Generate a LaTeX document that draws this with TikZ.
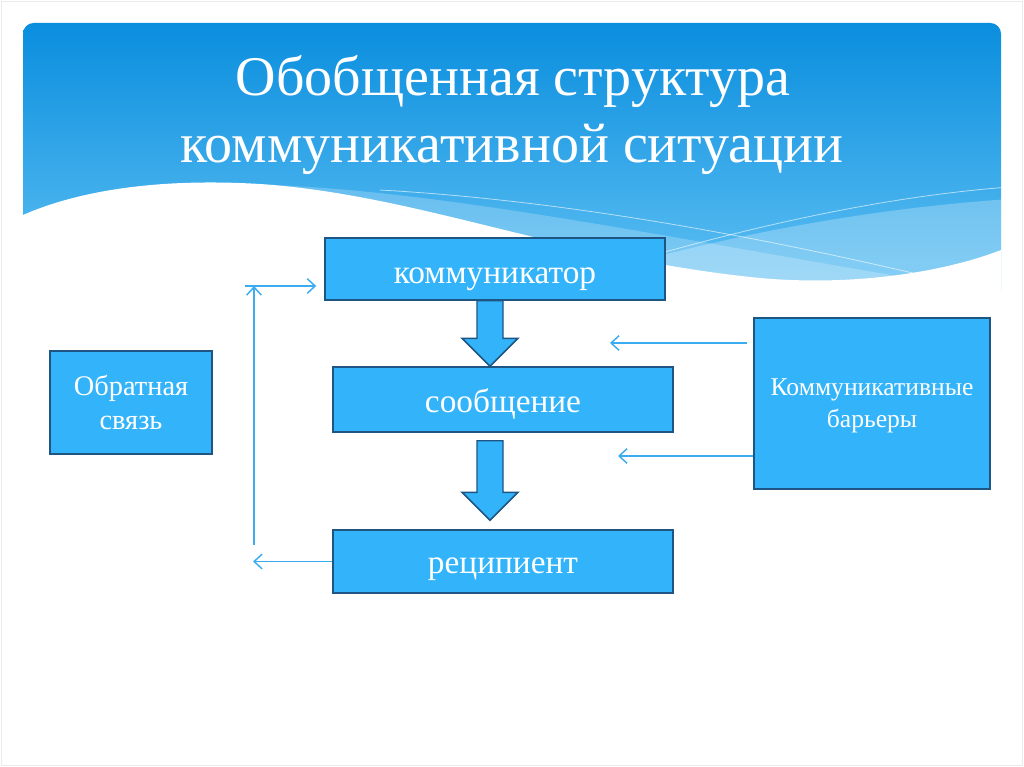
\documentclass[tikz,border=0pt]{standalone}
\usepackage{fontspec}
\setmainfont{Liberation Serif}
\usetikzlibrary{arrows.meta,calc}
\definecolor{boxblue}{RGB}{51,180,250}
\definecolor{boxedge}{RGB}{30,85,130}
\definecolor{linkblue}{RGB}{60,172,240}
\definecolor{hdtop}{RGB}{10,142,222}
\definecolor{hdbot}{RGB}{95,192,243}
\tikzset{
  box/.style={draw=boxedge, line width=1.1pt, fill=boxblue, text=white, inner sep=0pt, align=center},
  bigtext/.style={font=\fontsize{25}{30}\selectfont, text depth=0pt},
  sidetext/.style={font=\fontsize{21.3}{25.5}\selectfont},
  bartext/.style={font=\fontsize{19.2}{23.5}\selectfont},
  titletext/.style={text=white, font=\fontsize{42}{50}\selectfont, anchor=base},
  link/.style={draw=linkblue, line width=1.1pt, -{Straight Barb[length=6pt,width=11pt,line width=1.1pt]}},
  blockarrow/.style={draw=boxedge, line width=1.1pt, fill=boxblue, line join=miter}
}
\begin{document}
\begin{tikzpicture}[x=0.75pt,y=-0.75pt]
\useasboundingbox (0,0) rectangle (1024,767);
\fill[white] (0,0) rectangle (1024,767);
\draw[black!8, line width=1pt] (1.5,1.5) rectangle (1022.5,765.5);
% header
\begin{scope}
  \clip[rounded corners=8pt] (23,23) rectangle (1001,420);
  \shade[top color=hdtop, bottom color=hdbot] (23,23) rectangle (1001,290);
  \fill[white, opacity=0.22] (230,184) .. controls (420,185) and (650,235) .. (950,285) -- (1010,300) -- (1010,420) -- (230,420) -- cycle;
  \fill[white, opacity=0.25] (540,290) .. controls (700,240) and (850,210) .. (1010,199) -- (1010,420) -- (540,420) -- cycle;
  \draw[white, opacity=0.6, line width=0.6pt] (380,190) .. controls (560,200) and (750,235) .. (917,274);
  \draw[white, opacity=0.6, line width=0.6pt] (665,252) .. controls (780,220) and (900,195) .. (1010,187);
  \fill[white] (15,219) -- (23,215) .. controls (80,190) and (160,178) .. (260,184) .. controls (420,195) and (560,258) .. (760,278) .. controls (860,287) and (950,270) .. (1001,250) -- (1012,244) -- (1012,430) -- (15,430) -- cycle;
\end{scope}
\node[titletext] (t1) at (513,95) {Обобщенная структура};
\node[titletext] (t2) at (512,162) {коммуникативной ситуации};
% boxes
\node[box, bigtext, text height=21pt, minimum width=255pt, minimum height=46.5pt] (komm) at (495,269) {коммуникатор};
\node[box, bigtext, text height=19pt, minimum width=255pt, minimum height=48.75pt] (soob) at (503,399.5) {сообщение};
\node[box, bigtext, text height=18.5pt, minimum width=255pt, minimum height=47.25pt] (rec) at (503,561.5) {реципиент};
\node[box, sidetext, minimum width=121.5pt, minimum height=77.25pt] (obr) at (131,402.5) {Обратная\\связь};
\node[box, bartext, minimum width=177pt, minimum height=128.25pt] (bar) at (872,403.5) {\rule{0pt}{16pt}Коммуникативные\\барьеры};
% block arrows
\coordinate (ax) at (490,0);
\draw[blockarrow] ($(ax|-komm.south)+(-13,0)$) -- ($(ax|-komm.south)+(13,0)$) -- ($(ax|-soob.north)+(13,-28)$) -- ($(ax|-soob.north)+(28,-28)$) -- (ax|-soob.north) -- ($(ax|-soob.north)+(-28,-28)$) -- ($(ax|-soob.north)+(-13,-28)$) -- cycle;
\draw[blockarrow] ($(ax|-soob.south)+(-13,8)$) -- ($(ax|-soob.south)+(13,8)$) -- ($(ax|-rec.north)+(13,-37)$) -- ($(ax|-rec.north)+(28,-37)$) -- ($(ax|-rec.north)+(0,-9)$) -- ($(ax|-rec.north)+(-28,-37)$) -- ($(ax|-rec.north)+(-13,-37)$) -- cycle;
% feedback connectors
\coordinate (fbL) at (245,286);
\coordinate (fbT) at (254,286);
\coordinate (fbB) at (254,545);
\draw[link] (fbB) -- (fbT);
\draw[link] (fbL) -- ($(komm.west|-fbL)+(-8,0)$);
\draw[link] (rec.west) -- ($(fbT|-rec.west)+(-1,0)$);
% barrier connectors
\coordinate (b1) at (747,343);
\coordinate (b1e) at (610,343);
\coordinate (b2e) at (618,456);
\draw[link] (b1) -- (b1e);
\draw[link] (bar.west|-b2e) -- (b2e);
\end{tikzpicture}
\end{document}
